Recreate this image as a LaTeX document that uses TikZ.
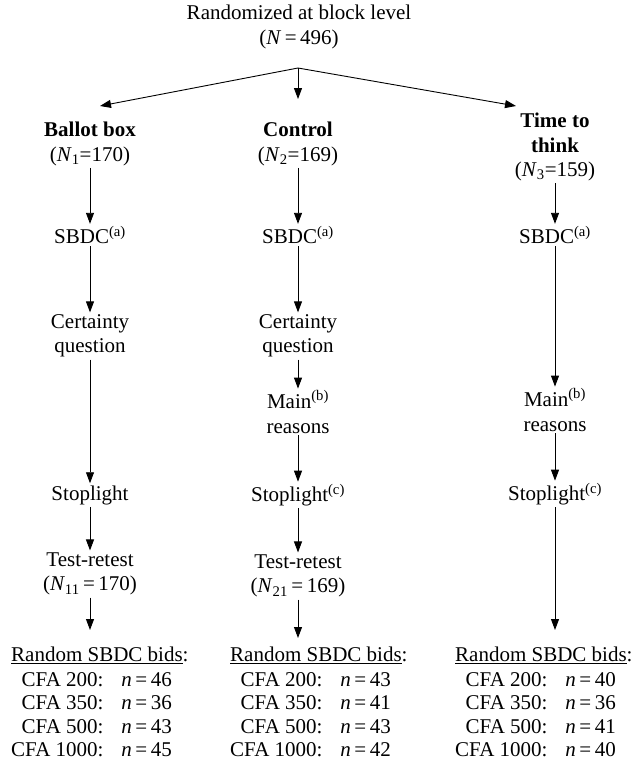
\documentclass[tikz,border=0pt]{standalone}
\usepackage{fontspec}
\setmainfont{Liberation Serif}
\usepackage{tikz}
\usetikzlibrary{arrows.meta}

\newcommand{\bidtable}[4]{%
  \begin{tabular}{@{}r@{\hspace{0.85em}}l@{}}
    \multicolumn{2}{@{}l@{}}{\underline{Random SBDC bids}:}\\[1pt]
    CFA 200: & \textit{n}\,=\,#1\\
    CFA 350: & \textit{n}\,=\,#2\\
    CFA 500: & \textit{n}\,=\,#3\\
    CFA 1000: & \textit{n}\,=\,#4
  \end{tabular}}

\begin{document}
\begin{tikzpicture}[x=1pt, y=-1pt,
                    every node/.style={align=center, inner sep=2pt, font=\fontsize{21}{24.5}\selectfont},
                    arr/.style={line width=0.9pt, -{Triangle[length=11pt, width=8pt]}},
                    bids/.style={anchor=north west, inner sep=0pt, font=\fontsize{21}{23.5}\selectfont}
                ]
                \useasboundingbox (0,0) rectangle (634,763);

                \node (rand) at (299,27) {Randomized at block level\\(\textit{N}\,=\,496)};
                \coordinate (split) at (298,68);
                \coordinate (tipL) at (100,106);
                \coordinate (tipR) at (516,106);

                \node (ballot) at (90,144) {\textbf{Ballot box}\\(\textit{N}\textsubscript{1}=170)};
                \node (control) at (298,144) {\textbf{Control}\\(\textit{N}\textsubscript{2}=169)};
                \node (think) at (555,147) {\textbf{Time to}\\\textbf{think}\\(\textit{N}\textsubscript{3}=159)};

                \node (sbdcL) at (90,235) {SBDC\textsuperscript{(a)}};
                \node (sbdcM) at (298,235) {SBDC\textsuperscript{(a)}};
                \node (sbdcR) at (555,235) {SBDC\textsuperscript{(a)}};

                \node (certL) at (90,336) {Certainty\\question};
                \node (certM) at (298,336) {Certainty\\question};

                \node (mainM) at (298,412) {Main\textsuperscript{(b)}\\reasons};
                \node (mainR) at (555,410) {Main\textsuperscript{(b)}\\reasons};

                \node (stopL) at (90,495) {Stoplight};
                \node (stopM) at (298,495) {Stoplight\textsuperscript{(c)}};
                \node (stopR) at (555,494) {Stoplight\textsuperscript{(c)}};

                \node (testL) at (90,574) {Test-retest\\(\textit{N}\textsubscript{11}\,=\,170)};
                \node (testM) at (298,576) {Test-retest\\(\textit{N}\textsubscript{21}\,=\,169)};

                \node[bids] (bidsL) at (11,645) {\bidtable{46}{36}{43}{45}};
                \node[bids] (bidsM) at (230,645) {\bidtable{43}{41}{43}{42}};
                \node[bids] (bidsR) at (455,645) {\bidtable{40}{36}{41}{40}};

                \draw[arr] (split) -- (tipL);
                \draw[arr] (split) -- (tipR);
                \draw[arr, shorten >=21pt] (split) -- (control.north);

                \draw[arr] (ballot) -- (sbdcL);
                \draw[arr] (sbdcL) -- (certL);
                \draw[arr] (certL) -- (stopL);
                \draw[arr] (stopL) -- (testL);
                \draw[arr, shorten >=15pt] (testL) -- (testL |- bidsL.north);

                \draw[arr] (control) -- (sbdcM);
                \draw[arr] (sbdcM) -- (certM);
                \draw[arr] (certM) -- (mainM);
                \draw[arr] (mainM) -- (stopM);
                \draw[arr] (stopM) -- (testM);
                \draw[arr, shorten >=7pt] (testM) -- (testM |- bidsM.north);

                \draw[arr] (think) -- (sbdcR);
                \draw[arr] (sbdcR) -- (mainR);
                \draw[arr] (mainR) -- (stopR);
                \draw[arr, shorten >=15pt] (stopR) -- (stopR |- bidsR.north);
            \end{tikzpicture}
\end{document}
